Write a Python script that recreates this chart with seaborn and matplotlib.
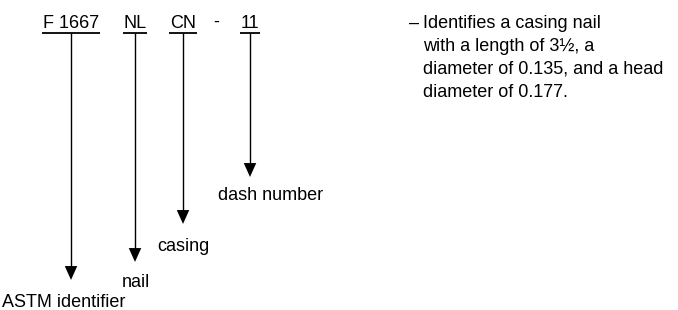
import matplotlib
matplotlib.use("Agg")
import matplotlib.pyplot as plt
import pandas as pd
import seaborn as sns

# designation parts and what each one means
code_parts = ["F 1667", "NL", "CN", "11"]
part_names = ["ASTM identifier", "nail", "casing", "dash number"]
note_lines = [
    "Identifies a casing nail",
    "with a length of 3½, a",
    "diameter of 0.135, and a head",
    "diameter of 0.177.",
]

# layout (pixel coordinates, y downwards)
part_x = [71, 135, 183, 250]
underline_half = [29, 12, 14, 10]
arrow_tip = [280, 262, 224, 177]
name_x = [2, 122, 157, 218]
name_base = [307, 287, 251, 200]
head_base = 28
underline_y = 33
note_x = 423
note_base = [28, 51, 74, 97]

sns.set_theme(style="white")
plt.rcParams["font.family"] = ["Liberation Sans", "DejaVu Sans"]

fig = plt.figure(figsize=(6.78, 3.10), dpi=100)
ax = fig.add_axes([0, 0, 1, 1])
ax.set_xlim(0, 678)
ax.set_ylim(310, 0)
ax.axis("off")

fs = 13
for i, part in enumerate(code_parts):
    x = part_x[i]
    ax.text(x, head_base, part, ha="center", va="baseline", fontsize=fs, color="black")
    ax.hlines(underline_y, x - underline_half[i], x + underline_half[i], color="black", lw=1.3)
    ax.vlines(x, underline_y, arrow_tip[i] - 8, color="black", lw=1.0)
    ax.text(name_x[i], name_base[i], part_names[i], ha="left", va="baseline", fontsize=fs, color="black")

ax.text(216, head_base - 1, "-", ha="center", va="baseline", fontsize=fs, color="black")

# arrowheads
heads = pd.DataFrame({"x": part_x, "y": [t - 7 for t in arrow_tip]})
tri = [(-0.45, -0.5), (0.45, -0.5), (0, 0.5)]
sns.scatterplot(data=heads, x="x", y="y", marker=[(-0.45, 0.5), (0.45, 0.5), (0, -0.5)],
                s=100, color="black", edgecolor="none", ax=ax, legend=False)
ax.set_xlim(0, 678)
ax.set_ylim(310, 0)
ax.axis("off")

ax.text(note_x - 4, note_base[0], "–", ha="right", va="baseline", fontsize=fs, color="black")
for line, yb in zip(note_lines, note_base):
    ax.text(note_x, yb, line, ha="left", va="baseline", fontsize=fs, color="black")

fig.savefig("out.png", dpi=100, facecolor="white")
